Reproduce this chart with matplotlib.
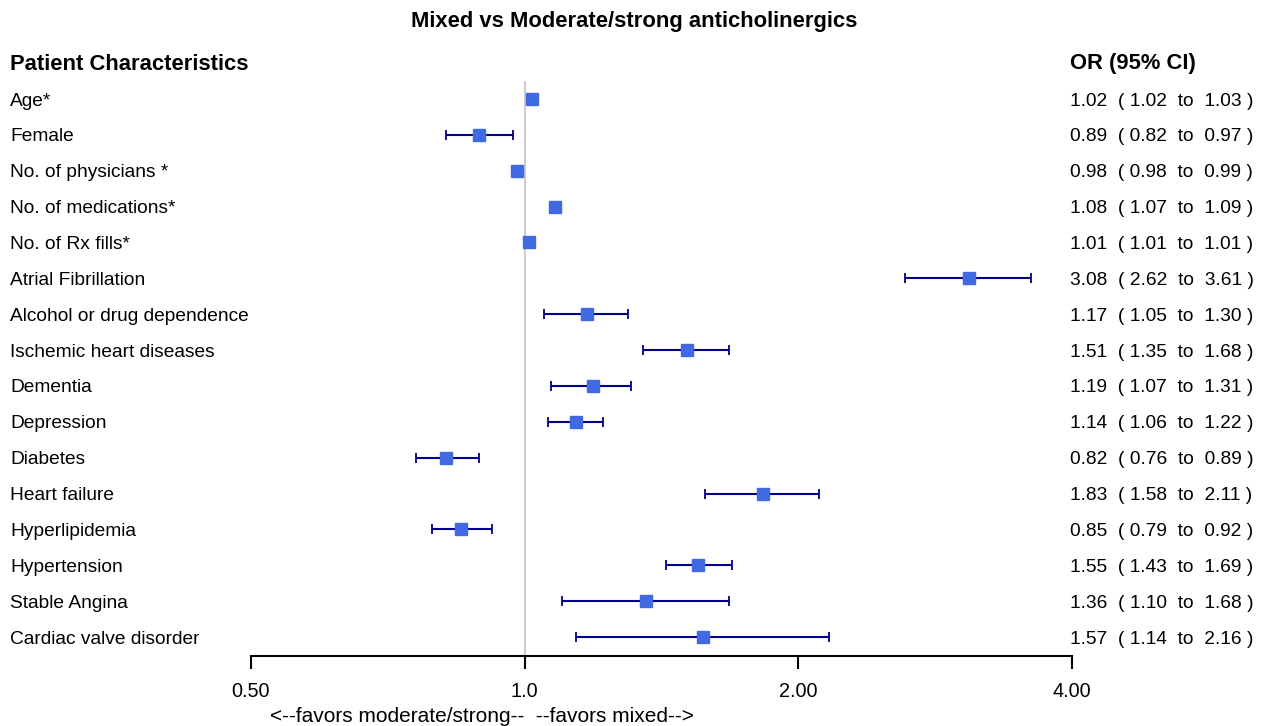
import numpy as np
import matplotlib.pyplot as plt

plt.rcParams['font.family'] = ['Liberation Sans', 'DejaVu Sans']

# data
labels = ["Age*", "Female", "No. of physicians *", "No. of medications*",
          "No. of Rx fills*", "Atrial Fibrillation", "Alcohol or drug dependence",
          "Ischemic heart diseases", "Dementia", "Depression", "Diabetes",
          "Heart failure", "Hyperlipidemia", "Hypertension", "Stable Angina",
          "Cardiac valve disorder"]
odds = [1.02, 0.89, 0.98, 1.08, 1.01, 3.08, 1.17, 1.51, 1.19, 1.14, 0.82,
        1.83, 0.85, 1.55, 1.36, 1.57]
lower = [1.02, 0.82, 0.98, 1.07, 1.01, 2.62, 1.05, 1.35, 1.07, 1.06, 0.76,
         1.58, 0.79, 1.43, 1.10, 1.14]
upper = [1.03, 0.97, 0.99, 1.09, 1.01, 3.61, 1.30, 1.68, 1.31, 1.22, 0.89,
         2.11, 0.92, 1.69, 1.68, 2.16]
ticks = [0.5, 1.0, 2.0, 4.0]
tick_labels = ["0.50", "1.0", "2.00", "4.00"]

W, H = 1266, 726
fig = plt.figure(figsize=(W / 100, H / 100), dpi=100)

# axes spans the plotting region in pixels (x 251..1072, y 81..656)
ax = fig.add_axes([251 / W, (H - 656) / H, (1072 - 251) / W, (656 - 81) / H])
ax.set_xscale('log')
ax.set_xlim(0.5, 4.0)
row_px = 35.87
ax.set_ylim((656 - 99) / row_px, (81 - 99) / row_px)

y = np.arange(len(labels))
odds = np.array(odds)
lower = np.array(lower)
upper = np.array(upper)

ax.axvline(1.0, color='#cccccc', lw=1.5, zorder=0)
ax.errorbar(odds, y, xerr=[odds - lower, upper - odds], fmt='none',
            ecolor='darkblue', elinewidth=1.5, capsize=3.5, capthick=1.3, zorder=2)
ax.plot(odds, y, 's', color='royalblue', markersize=9, zorder=3)

for s in ['top', 'right', 'left']:
    ax.spines[s].set_visible(False)
ax.spines['bottom'].set_linewidth(1.5)
ax.set_yticks([])
ax.set_xticks(ticks)
ax.set_xticklabels(tick_labels)
ax.xaxis.set_minor_locator(plt.NullLocator())
ax.tick_params(axis='x', length=9, width=1.5, pad=10, labelsize=14.3)

# left labels and right OR column
for i, lab in enumerate(labels):
    yp = 1 - (101 + i * row_px) / H
    fig.text(10 / W, yp, lab, fontsize=13.8, va='center', ha='left')
    txt = f"{odds[i]:.2f}  ( {lower[i]:.2f}  to  {upper[i]:.2f} )"
    fig.text(1070 / W, yp, txt, fontsize=13.8, va='center', ha='left')

fig.text(10 / W, 1 - 64 / H, "Patient Characteristics", fontsize=15.8,
         fontweight='bold', va='center', ha='left')
fig.text(1070 / W, 1 - 64 / H, "OR (95% CI)", fontsize=15.8,
         fontweight='bold', va='center', ha='left')
fig.text(634 / W, 1 - 21 / H, "Mixed vs Moderate/strong anticholinergics",
         fontsize=15.8, fontweight='bold', va='center', ha='center')
fig.text(270 / W, 1 - 716 / H, "<--favors moderate/strong--  --favors mixed-->",
         fontsize=15, va='center', ha='left')

fig.savefig('out.png', dpi=100)
